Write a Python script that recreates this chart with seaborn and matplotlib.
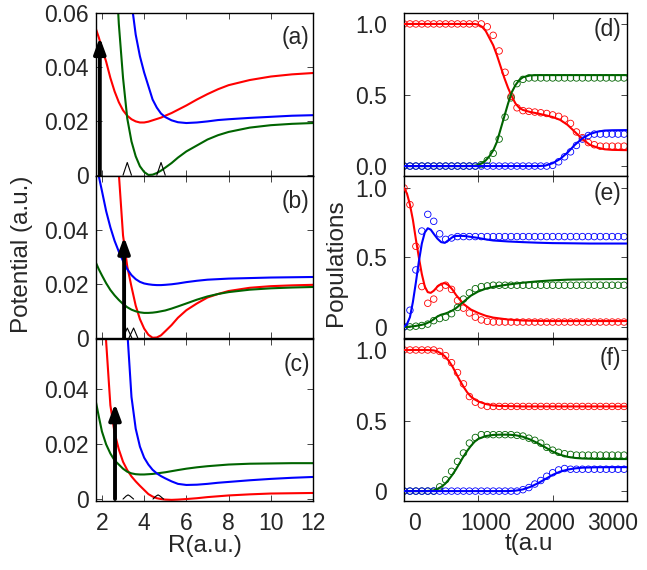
import numpy as np
import matplotlib
matplotlib.use("Agg")
import matplotlib.pyplot as plt
import matplotlib.transforms as mtransforms
import seaborn as sns

sns.set_style("ticks")
plt.rcParams['font.family'] = ['Liberation Sans', 'DejaVu Sans']
plt.rcParams.update({'xtick.direction': 'in', 'ytick.direction': 'in',
                     'xtick.top': True, 'ytick.right': True,
                     'xtick.major.size': 4, 'ytick.major.size': 4,
                     'xtick.major.width': 0.6, 'ytick.major.width': 0.6,
                     'xtick.major.pad': 8, 'ytick.major.pad': 5,
                     'axes.linewidth': 1.0, 'axes.edgecolor': 'black',
                     'xtick.labelsize': 16.5, 'ytick.labelsize': 16.5,
                     'axes.labelsize': 17.5})

RED, GREEN, BLUE = '#ff0000', '#006400', '#0000ff'

# ---------------- potentials, panels (a)-(c) ----------------
R = [1.72, 1.85, 2.0, 2.2, 2.4, 2.6, 2.8, 3.0, 3.2, 3.4, 3.6, 3.8, 4.0, 4.2, 4.4,
     4.6, 4.8, 5.0, 5.3, 5.6, 6.0, 6.5, 7.0, 7.5, 8.0, 9.0, 10.0, 11.0, 12.0]

a_red = [0.054, 0.051, 0.047, 0.042, 0.036, 0.031, 0.027, 0.024, 0.022, 0.0207,
         0.0199, 0.0195, 0.0195, 0.0198, 0.0203, 0.0208, 0.0213, 0.022, 0.023, 0.0242,
         0.0258, 0.028, 0.030, 0.0318, 0.0333, 0.0352, 0.0365, 0.0373, 0.0378]
a_green = [0.28, 0.24, 0.2, 0.16, 0.12, 0.085, 0.056, 0.036, 0.021, 0.0125,
           0.007, 0.0033, 0.0012, 0.0001, 0.0002, 0.0008, 0.0017, 0.0028, 0.0045, 0.0065,
           0.0088, 0.011, 0.0132, 0.0148, 0.016, 0.0176, 0.0185, 0.019, 0.0193]
a_blue = [0.4, 0.35, 0.3, 0.25, 0.2, 0.16, 0.125, 0.1, 0.08, 0.064,
          0.052, 0.044, 0.038, 0.033, 0.028, 0.025, 0.0228, 0.0215, 0.0203, 0.0196,
          0.0193, 0.0195, 0.0199, 0.0204, 0.0207, 0.0212, 0.0216, 0.022, 0.0222]

b_red = [0.33, 0.29, 0.24, 0.18, 0.13, 0.09, 0.061, 0.038, 0.0265, 0.019,
         0.012, 0.007, 0.0035, 0.0012, 0.0001, 0.0002, 0.001, 0.0025, 0.0048, 0.0075,
         0.0103, 0.0128, 0.015, 0.0163, 0.0174, 0.0186, 0.0192, 0.0195, 0.0197]
b_green = [0.0278, 0.0255, 0.0232, 0.0203, 0.0178, 0.0158, 0.0141, 0.0126, 0.0114, 0.0105,
           0.0099, 0.0095, 0.0093, 0.0093, 0.0094, 0.0096, 0.0099, 0.0102, 0.0109, 0.0117,
           0.0128, 0.0142, 0.0154, 0.0163, 0.017, 0.0179, 0.0184, 0.0187, 0.0189]
b_blue = [0.066, 0.060, 0.0545, 0.047, 0.041, 0.036, 0.032, 0.0285, 0.0255, 0.0233,
          0.0218, 0.0208, 0.0202, 0.0199, 0.0197, 0.0196, 0.0196, 0.0197, 0.0199, 0.0202,
          0.0207, 0.0212, 0.0216, 0.0218, 0.022, 0.0222, 0.0224, 0.0225, 0.0226]

c_red = [0.16, 0.12, 0.09, 0.057, 0.034, 0.024, 0.018, 0.0135, 0.0105, 0.0082,
         0.0064, 0.0048, 0.0033, 0.0018, 0.0009, 0.0003, 0.0, -0.0002, -0.0003, -0.0002,
         0.0, 0.0003, 0.0007, 0.001, 0.0013, 0.0017, 0.002, 0.0021, 0.0022]
c_green = [0.035, 0.030, 0.0245, 0.0198, 0.0165, 0.014, 0.0125, 0.011, 0.0099, 0.0093,
           0.009, 0.0089, 0.0089, 0.009, 0.0091, 0.0093, 0.0095, 0.0097, 0.0101, 0.0105,
           0.011, 0.0115, 0.0119, 0.0122, 0.0125, 0.0128, 0.0129, 0.013, 0.013]
c_blue = [0.3, 0.26, 0.22, 0.18, 0.15, 0.12, 0.1, 0.08, 0.061, 0.037,
          0.0255, 0.019, 0.015, 0.0125, 0.0106, 0.0093, 0.0083, 0.0075, 0.0064, 0.0055,
          0.0051, 0.0052, 0.0055, 0.0059, 0.0062, 0.0068, 0.0073, 0.0077, 0.008]

# vertical excitation arrows (R position, top of arrow)
arrow_R = [1.9, 3.05, 2.62]
arrow_top = [0.051, 0.0374, 0.0346]

# small wave packets drawn on the baseline
packets_a = [([3.0, 3.2, 3.4], [0, 0.0047, 0]), ([4.6, 4.8, 5.0], [0, 0.0047, 0])]
packets_b = [([3.0, 3.2, 3.42], [0, 0.0037, 0]), ([3.28, 3.5, 3.7], [0, 0.0037, 0])]
packets_c = [([3.0, 3.15, 3.24, 3.33, 3.5], [0, 0.0011, 0.0015, 0.0011, 0]),
             ([4.42, 4.57, 4.66, 4.75, 4.92], [0, 0.0011, 0.0015, 0.0011, 0])]

# ---------------- populations, panels (d)-(f) ----------------
td = [0, 800, 950, 1000, 1050, 1100, 1150, 1200, 1250, 1300, 1350, 1400, 1450, 1500, 1550,
      1600, 1700, 1800, 1900, 2000, 2100, 2200, 2300, 2400, 2500, 2600, 2700, 2800, 3000]
d_red = [1.0, 1.0, 1.0, 0.995, 0.98, 0.95, 0.90, 0.85, 0.78, 0.70, 0.62, 0.55, 0.49, 0.44, 0.41,
         0.395, 0.38, 0.37, 0.358, 0.345, 0.325, 0.29, 0.24, 0.19, 0.15, 0.13, 0.118, 0.114, 0.112]
d_green = [0, 0, 0.002, 0.008, 0.02, 0.04, 0.07, 0.11, 0.17, 0.26, 0.35, 0.44, 0.52, 0.57, 0.605,
           0.625, 0.638] + [0.64] * 12
d_blue = [0] * 18 + [0.003, 0.02, 0.05, 0.095, 0.15, 0.195, 0.225, 0.242, 0.25, 0.252, 0.253]

te = [0, 40, 80, 120, 160, 200, 240, 280, 320, 360, 400, 450, 500, 550, 600, 650, 700,
      800, 900, 1000, 1100, 1200, 1400, 1600, 1800, 2000, 2200, 2500, 3000]
e_red = [1.0, 0.96, 0.88, 0.77, 0.63, 0.50, 0.38, 0.29, 0.25, 0.245, 0.26, 0.29, 0.31, 0.315,
         0.30, 0.27, 0.23, 0.165, 0.125, 0.10, 0.08, 0.067, 0.053, 0.046, 0.043, 0.042, 0.042,
         0.042, 0.042]
e_blue = [0.0, 0.02, 0.07, 0.18, 0.32, 0.47, 0.60, 0.68, 0.71, 0.70, 0.67, 0.635, 0.61, 0.605,
          0.625, 0.645, 0.655, 0.655, 0.648, 0.64, 0.63, 0.622, 0.615, 0.61, 0.606, 0.603,
          0.602, 0.60, 0.60]
e_green = [0, 0, 0.002, 0.004, 0.007, 0.011, 0.015, 0.02, 0.03, 0.04, 0.055, 0.075, 0.088,
           0.095, 0.105, 0.118, 0.135, 0.18, 0.225, 0.255, 0.275, 0.288, 0.305, 0.318, 0.328,
           0.335, 0.34, 0.343, 0.345]

tf = [0, 300, 400, 450, 500, 550, 600, 650, 700, 750, 800, 850, 900, 950, 1000, 1100, 1200,
      1300, 1400, 1500, 1600, 1700, 1800, 1900, 2000, 2100, 2200, 2300, 2400, 2600, 3000]
f_red = [1.0, 1.0, 0.997, 0.99, 0.975, 0.955, 0.925, 0.885, 0.835, 0.785, 0.74, 0.70, 0.67,
         0.65, 0.635, 0.617, 0.607, 0.603, 0.602, 0.601] + [0.60] * 11
f_green = [0, 0, 0.005, 0.015, 0.03, 0.05, 0.08, 0.115, 0.155, 0.20, 0.245, 0.285, 0.32, 0.35,
           0.37, 0.39, 0.398, 0.40, 0.40, 0.396, 0.385, 0.365, 0.34, 0.31, 0.28, 0.258, 0.243,
           0.235, 0.231, 0.228, 0.227]
f_blue = [0] * 19 + [0.003, 0.012, 0.03, 0.055, 0.085, 0.115, 0.138, 0.152, 0.161, 0.166,
                     0.169, 0.17]

# open-circle data, sampled every 80 a.u.
t_pts = np.arange(0, 3000, 80)
d_red_pts = [1.0] * 13 + [1.0, 0.98, 0.92, 0.81, 0.66, 0.49, 0.41, 0.39, 0.385, 0.38, 0.375,
                          0.37, 0.36, 0.35, 0.33, 0.30, 0.24, 0.20, 0.165, 0.15] + [0.14] * 5
d_green_pts = [0] * 13 + [0.01, 0.04, 0.09, 0.19, 0.345, 0.48, 0.58, 0.61] + [0.62] * 17
d_blue_pts = [0] * 25 + [0.005, 0.03, 0.065, 0.10, 0.145, 0.19, 0.215, 0.225] + [0.225] * 5
e_red_pts = [1.0, 0.88, 0.58, 0.29, 0.17, 0.20, 0.28, 0.30, 0.27, 0.19, 0.135, 0.10, 0.07,
             0.05, 0.04] + [0.035] * 23
e_blue_pts = [0.0, 0.12, 0.41, 0.69, 0.81, 0.76, 0.67, 0.63, 0.64] + [0.65] * 29
e_green_pts = [0, 0, 0.005, 0.01, 0.02, 0.045, 0.06, 0.07, 0.095, 0.14, 0.20, 0.245, 0.275,
               0.29, 0.295] + [0.30] * 23
f_red_pts = [1.0] * 6 + [0.99, 0.96, 0.91, 0.84, 0.76, 0.67, 0.63, 0.61] + [0.60] * 24
f_green_pts = [0] * 6 + [0.03, 0.08, 0.14, 0.21, 0.27, 0.34, 0.38, 0.40, 0.40, 0.40, 0.40,
                         0.40, 0.40, 0.395, 0.39, 0.375, 0.36, 0.34, 0.31, 0.29, 0.275,
                         0.265, 0.26] + [0.255] * 9
f_blue_pts = [0] * 20 + [0.01, 0.025, 0.05, 0.075, 0.105, 0.13, 0.15, 0.16] + [0.155] * 10

# ticks / labels
R_ticks = [2, 4, 6, 8, 10, 12]
V_ticks_a = [0, 0.02, 0.04, 0.06]
V_labels_a = ['0', '0.02', '0.04', '0.06']
V_ticks = [0, 0.02, 0.04]
V_labels = ['0', '0.02', '0.04']
t_ticks = [0, 1000, 2000, 3000]
P_ticks = [0, 0.5, 1.0]
P_labels_d = ['0.0', '0.5', '1.0']
P_labels = ['0', '0.5', '1.0']
panel_names = ['(a)', '(b)', '(c)', '(d)', '(e)', '(f)']

fig = plt.figure(figsize=(6.47, 5.70), dpi=100)
rows = [(0.6912, 0.286), (0.407, 0.2842), (0.1211, 0.2842)]
left_axes = [fig.add_axes([0.1484, b, 0.3354, h]) for b, h in rows]
right_axes = [fig.add_axes([0.6244, b, 0.3447, h]) for b, h in rows]

pot_sets = [(a_red, a_green, a_blue), (b_red, b_green, b_blue), (c_red, c_green, c_blue)]
packets = [packets_a, packets_b, packets_c]
ylims_left = [(-0.0003, 0.06), (0.0, 0.06), (-0.0007, 0.058)]
for i, ax in enumerate(left_axes):
    red, green, blue = pot_sets[i]
    for vals, col in [(red, RED), (green, GREEN), (blue, BLUE)]:
        sns.lineplot(x=R, y=vals, ax=ax, color=col, linewidth=1.5, sort=False)
    for pr, pv in packets[i]:
        sns.lineplot(x=pr, y=pv, ax=ax, color='black', linewidth=0.8, sort=False)
    ax.annotate('', xy=(arrow_R[i], arrow_top[i]), xytext=(arrow_R[i], 0),
                arrowprops=dict(arrowstyle='-|>,head_width=0.35,head_length=0.95',
                                lw=2.8, color='black', mutation_scale=10,
                                shrinkA=0, shrinkB=0))
    ax.set_xlim(1.72, 12)
    ax.set_ylim(*ylims_left[i])
    ax.set_xticks(R_ticks)
    if i == 0:
        ax.set_yticks(V_ticks_a, V_labels_a)
    else:
        ax.set_yticks(V_ticks, V_labels)
    if i < 2:
        ax.set_xticklabels([])
    ax.text(0.985, [0.85, 0.84, 0.845][i], panel_names[i], transform=ax.transAxes,
            ha='right', va='center', fontsize=16.5)
left_axes[2].set_xlabel('R(a.u.)', labelpad=0)

pop_sets = [(td, d_red, d_green, d_blue, d_red_pts, d_green_pts, d_blue_pts),
            (te, e_red, e_green, e_blue, e_red_pts, e_green_pts, e_blue_pts),
            (tf, f_red, f_green, f_blue, f_red_pts, f_green_pts, f_blue_pts)]
ylims_right = [(-0.07, 1.077), (-0.08, 1.086), (-0.07, 1.078)]
for i, ax in enumerate(right_axes):
    t, red, green, blue, redp, greenp, bluep = pop_sets[i]
    for vals, col in [(redp, RED), (greenp, GREEN), (bluep, BLUE)]:
        sns.scatterplot(x=t_pts, y=vals, ax=ax, marker='o', s=22, facecolors='none',
                        edgecolor=col, linewidth=0.6, zorder=2)
    for vals, col in [(red, RED), (green, GREEN), (blue, BLUE)]:
        sns.lineplot(x=t, y=vals, ax=ax, color=col, linewidth=1.5, zorder=3)
    ax.set_xlim(0, 3000)
    ax.set_ylim(*ylims_right[i])
    ax.set_xticks(t_ticks)
    ax.set_yticks(P_ticks, P_labels_d if i == 0 else P_labels)
    ax.tick_params(axis='y', pad=12)
    if i < 2:
        ax.set_xticklabels([])
    ax.text(0.975, [0.9, 0.895, 0.88][i], panel_names[i + 3], transform=ax.transAxes,
            ha='right', va='center', fontsize=16.5)
right_axes[2].set_xlabel('t(a.u', labelpad=2)
right_axes[2].xaxis.set_label_coords(0.56, -0.2)

# the time tick labels sit slightly off their ticks in the original figure
label_shift_px = [11, 7, -2, -14]
for lab, dx in zip(right_axes[2].get_xticklabels(), label_shift_px):
    lab.set_transform(lab.get_transform()
                      + mtransforms.ScaledTranslation(dx / 100, 0, fig.dpi_scale_trans))

for ax in left_axes + right_axes:
    ax.set_ylabel('')

fig.text(0.034, 0.553, 'Potential (a.u.)', rotation=90, ha='center', va='center', fontsize=17.5)
fig.text(0.519, 0.539, 'Populations', rotation=90, ha='center', va='center', fontsize=17.5)

fig.savefig('out.png', dpi=100)
